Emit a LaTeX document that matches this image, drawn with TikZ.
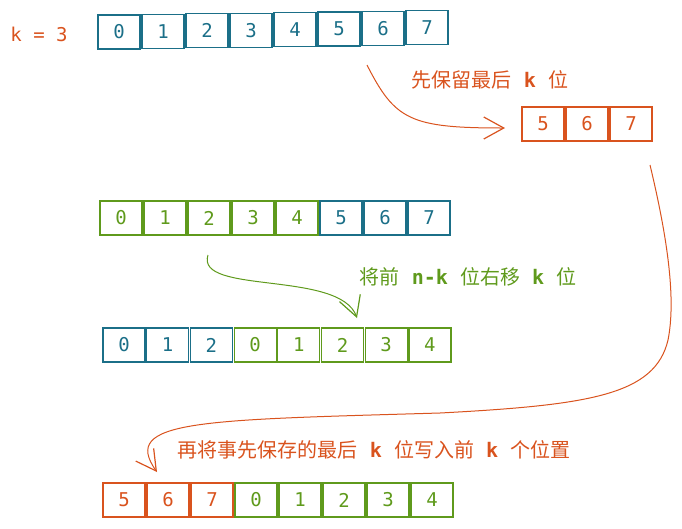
\documentclass[tikz,border=0pt]{standalone}
\usepackage{fontspec}
\setmainfont{Noto Sans CJK SC}
\setmonofont{DejaVu Sans Mono}
\usetikzlibrary{arrows.meta}
\definecolor{tealc}{HTML}{1B6F88}
\definecolor{greenc}{HTML}{5F9A1C}
\definecolor{orangec}{HTML}{D9531E}

\begin{document}
\begin{tikzpicture}[x=1pt, y=-1pt, line width=1.2pt,
        cell/.style = {draw, minimum width=42pt, minimum height=34pt, inner sep=0pt,
            font=\ttfamily\fontsize{19}{19}\selectfont},
        label/.style = {font=\fontsize{20}{24}\selectfont},
        sketch/.style = {draw=#1, line width=1pt,
            -{Straight Barb[length=20pt, width=22pt, line width=1.2pt]}}]
    \useasboundingbox (0,0) rectangle (682,528);
    \node[orangec, font=\ttfamily\fontsize{19}{19}\selectfont] (k) at (39,34) {k = 3};
    % original array
    \foreach \n in {0,...,7}{
        \node[cell, tealc] at (119+44*\n, 32-0.6*\n) (t\n) {\n};
    }
    % saved last k
    \foreach \d [count=\n from 0] in {5,6,7}{
        \node[cell, orangec] at (543+44*\n, 124) (s\n) {\d};
    }
    \node[label, orangec] at (490,80) (l1) {先保留最后\texttt{~\textbf{k}~}位};
    % before shift
    \foreach \d/\c [count=\n from 0] in {0/greenc,1/greenc,2/greenc,3/greenc,4/greenc,5/tealc,6/tealc,7/tealc}{
        \node[cell, \c] at (121+44*\n, 218) (m\n) {\d};
    }
    \node[label, greenc] at (468,277) (l2) {将前\texttt{~\textbf{n-k}~}位右移\texttt{~\textbf{k}~}位};
    % after shift
    \foreach \d/\c [count=\n from 0] in {0/tealc,1/tealc,2/tealc,0/greenc,1/greenc,2/greenc,3/greenc,4/greenc}{
        \node[cell, \c] at (124+43.7*\n, 345) (h\n) {\d};
    }
    \node[label, orangec] at (374,450) (l3) {再将事先保存的最后\texttt{~\textbf{k}~}位写入前\texttt{~\textbf{k}~}个位置};
    % result
    \foreach \d/\c [count=\n from 0] in {5/orangec,6/orangec,7/orangec,0/greenc,1/greenc,2/greenc,3/greenc,4/greenc}{
        \node[cell, \c] at (124+44*\n, 500) (r\n) {\d};
    }
    % arrows
    \coordinate (p1) at (367,65);
    \coordinate (q1) at (505,128);
    \draw[sketch=orangec] (p1) .. controls (395,120) and (410,128) .. (q1);
    \coordinate (p2) at (208,255);
    \coordinate (q2) at (357,318);
    \draw[sketch=greenc] (p2) .. controls (195,295) and (340,270) .. (q2);
    \coordinate (p3) at (650,165);
    \coordinate (q3) at (157,472);
    \draw[sketch=orangec] (p3) .. controls (668,240) and (676,300) .. (668,340)
        .. controls (655,395) and (590,405) .. (440,413)
        .. controls (200,420) and (120,420) .. (q3);
\end{tikzpicture}
\end{document}
